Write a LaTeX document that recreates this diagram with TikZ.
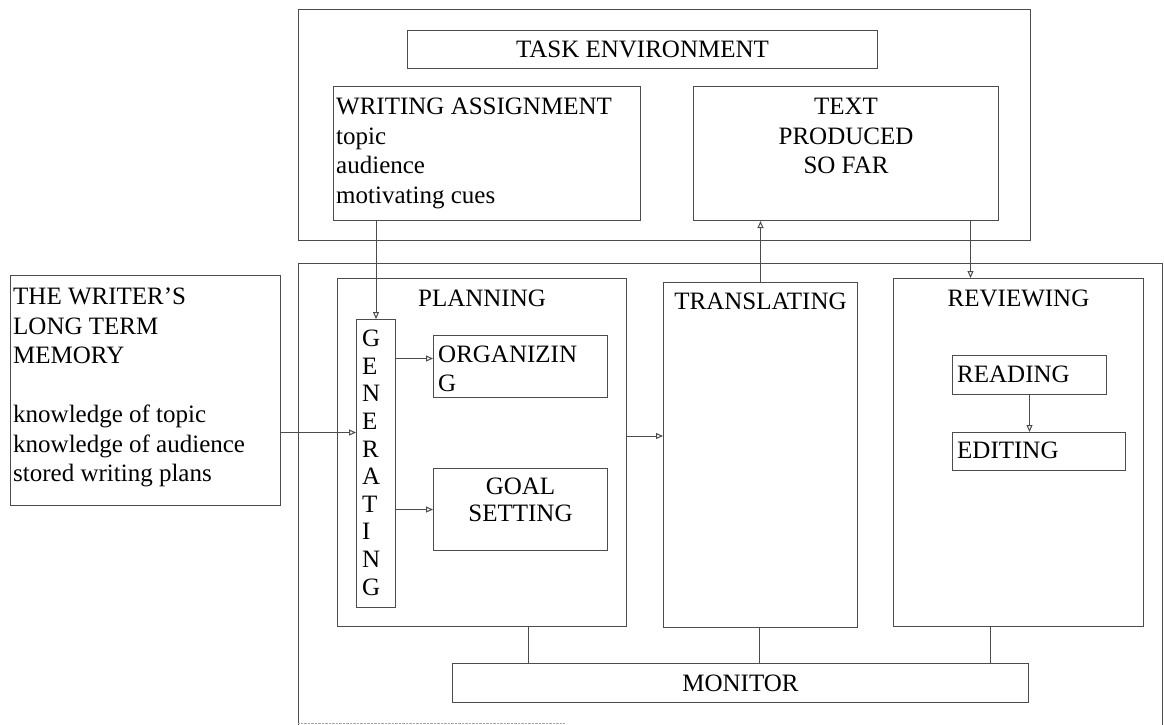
\documentclass[tikz,border=0pt]{standalone}
\usepackage{fontspec}
\setmainfont{Liberation Serif}
\usetikzlibrary{arrows.meta,positioning}

\begin{document}
\begin{tikzpicture}[x=1pt,y=-1pt,>={Triangle[open,length=7pt,width=6pt]},
    font=\fontsize{25}{29.5}\selectfont,
    box/.style={draw=black!70,line width=1pt,anchor=north west,inner sep=0pt},
    lbl/.style={inner sep=0pt},
    link/.style={draw=black!70,line width=1pt},
    bus/.style={draw=black!70,double,double distance=2pt,line width=0.8pt}]
    \useasboundingbox (0,0) rectangle (1164,724);

    % task environment
    \node[box,minimum width=732pt,minimum height=231pt] (task) at (298,9) {};
    \node[box,minimum width=470pt,minimum height=38pt] (taskenv) at (407,30) {TASK ENVIRONMENT};
    \node[box,minimum width=307pt,minimum height=134pt] (wa) at (333,86) {};
    \node[lbl,align=left,below right=12pt and 3pt of wa.north west] (watxt)
        {WRITING ASSIGNMENT\\topic\\audience\\motivating cues};
    \node[box,minimum width=305pt,minimum height=134pt] (tp) at (693,86) {};
    \node[lbl,align=center,below=12pt of tp.north] (tptxt) {TEXT\\PRODUCED\\SO FAR};

    % long term memory
    \node[box,minimum width=270pt,minimum height=230pt] (ltm) at (10,275) {};
    \node[lbl,align=left,below right=13pt and 3pt of ltm.north west] (ltmtxt)
        {THE WRITER'S\\LONG TERM\\MEMORY\\[29.5pt]knowledge of topic\\knowledge of audience\\stored writing plans};

    % writer
    \node[box,minimum width=864pt,minimum height=470pt] (low) at (298,263) {};
    \draw[black!35,densely dotted] ([yshift=11pt]low.south west) -- ++(267,0);

    \node[box,minimum width=289pt,minimum height=348pt] (plan) at (337,278) {};
    \node[lbl,below=12pt of plan.north] (plantxt) {PLANNING};
    \node[box,minimum width=39pt,minimum height=288pt] (gen) at (356,319) {};
    \node[lbl,align=left,font=\fontsize{25}{27.6}\selectfont,below right=11pt and 6pt of gen.north west] (gentxt)
        {G\\E\\N\\E\\R\\A\\T\\I\\N\\G};
    \node[box,minimum width=174pt,minimum height=62pt] (org) at (433,335) {};
    \node[lbl,align=left,font=\fontsize{25}{29}\selectfont,below right=11pt and 5pt of org.north west] (orgtxt)
        {ORGANIZIN\\G};
    \node[box,minimum width=174pt,minimum height=82pt] (goal) at (433,468) {};
    \node[lbl,align=center,font=\fontsize{25}{27}\selectfont,below=10pt of goal.north] (goaltxt) {GOAL\\SETTING};

    \node[box,minimum width=194pt,minimum height=345pt] (trans) at (663,282) {};
    \node[lbl,below=11pt of trans.north] (transtxt) {TRANSLATING};

    \node[box,minimum width=250pt,minimum height=348pt] (rev) at (893,278) {};
    \node[lbl,below=12pt of rev.north] (revtxt) {REVIEWING};
    \node[box,minimum width=154pt,minimum height=39pt] (read) at (952,355) {};
    \node[lbl,below right=11pt and 5pt of read.north west] (readtxt) {READING};
    \node[box,minimum width=173pt,minimum height=38pt] (edit) at (952,432) {};
    \node[lbl,below right=10pt and 5pt of edit.north west] (edittxt) {EDITING};

    \node[box,minimum width=576pt,minimum height=39pt] (mon) at (452,663) {MONITOR};

    % arrows
    \draw[->,link] (wa.south -| gen.north) -- (gen.north);
    \draw[->,link] (trans.north) -- (trans.north |- tp.south);
    \coordinate (revin) at ([xshift=-48pt]rev.north);
    \draw[->,link] (tp.south -| revin) -- (revin);
    \coordinate (genin) at ([yshift=31pt]gen.west);
    \draw[->,link] (ltm.east |- genin) -- (genin);
    \coordinate (orgin) at ([yshift=8pt]org.west);
    \draw[->,link] (gen.east |- orgin) -- (orgin);
    \draw[->,link] (gen.east |- goal.west) -- (goal.west);
    \coordinate (transin) at ([yshift=19pt]trans.west);
    \draw[->,link] (plan.east |- transin) -- (transin);
    \draw[->,link] (read.south) -- (edit.north -| read.south);

    % monitor
    \coordinate (planout) at ([xshift=47.5pt]plan.south);
    \draw[bus] (planout) -- (planout |- mon.north);
    \draw[bus] (trans.south) -- (trans.south |- mon.north);
    \coordinate (revout) at ([xshift=-27pt]rev.south);
    \draw[bus] (revout) -- (revout |- mon.north);
\end{tikzpicture}
\end{document}
